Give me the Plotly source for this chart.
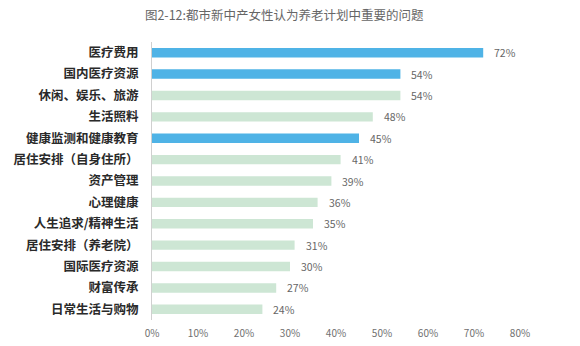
import plotly.graph_objects as go

categories = ["医疗费用", "国内医疗资源", "休闲、娱乐、旅游", "生活照料", "健康监测和健康教育",
              "居住安排（自身住所）", "资产管理", "心理健康", "人生追求/精神生活",
              "居住安排（养老院）", "国际医疗资源", "财富传承", "日常生活与购物"]
values = [72, 54, 54, 48, 45, 41, 39, 36, 35, 31, 30, 27, 24]
highlight = [True, True, False, False, True, False, False, False, False, False, False, False, False]
tick_vals = [0, 10, 20, 30, 40, 50, 60, 70, 80]
tick_text = [f"{v}%" for v in tick_vals]
title_text = "图2-12:都市新中产女性认为养老计划中重要的问题"

BLUE = "#4FB3E6"
GREEN = "#CDE6D4"
colors = [BLUE if h else GREEN for h in highlight]

font_family = "Noto Sans CJK SC, Noto Sans, sans-serif"

fig = go.Figure()
fig.add_trace(go.Bar(
    x=values, y=categories, orientation="h",
    marker=dict(color=colors, line=dict(width=0)),
    width=0.44,
    hoverinfo="skip",
))

for c, v in zip(categories, values):
    fig.add_annotation(x=v, y=c, text=f"{v}%", showarrow=False,
                       xanchor="left", xshift=9,
                       font=dict(size=10.5, color="#666666", family=font_family))

fig.update_layout(
    width=580, height=346,
    margin=dict(l=152, r=60, t=42, b=26, autoexpand=False),
    paper_bgcolor="white", plot_bgcolor="white",
    showlegend=False,
    title=dict(text=title_text, x=0.49, xanchor="center", y=0.955, yanchor="middle",
               font=dict(size=12.5, color="#666666", family=font_family)),
    font=dict(family=font_family),
)
fig.update_xaxes(range=[0, 80], tickvals=tick_vals, ticktext=tick_text,
                 showgrid=False, zeroline=False, showline=False, automargin=False,
                 tickfont=dict(size=10, color="#707070", family=font_family),
                 ticks="", ticklabelstandoff=6)
fig.update_yaxes(categoryorder="array", categoryarray=categories, autorange="reversed",
                 showgrid=False, zeroline=False, showline=True, linecolor="#D0D0D0", linewidth=1,
                 ticks="", ticklabelstandoff=10, automargin=False,
                 tickfont=dict(size=12.5, color="#2A2A2A", family=font_family, weight=600))

fig.write_html("out.html")
